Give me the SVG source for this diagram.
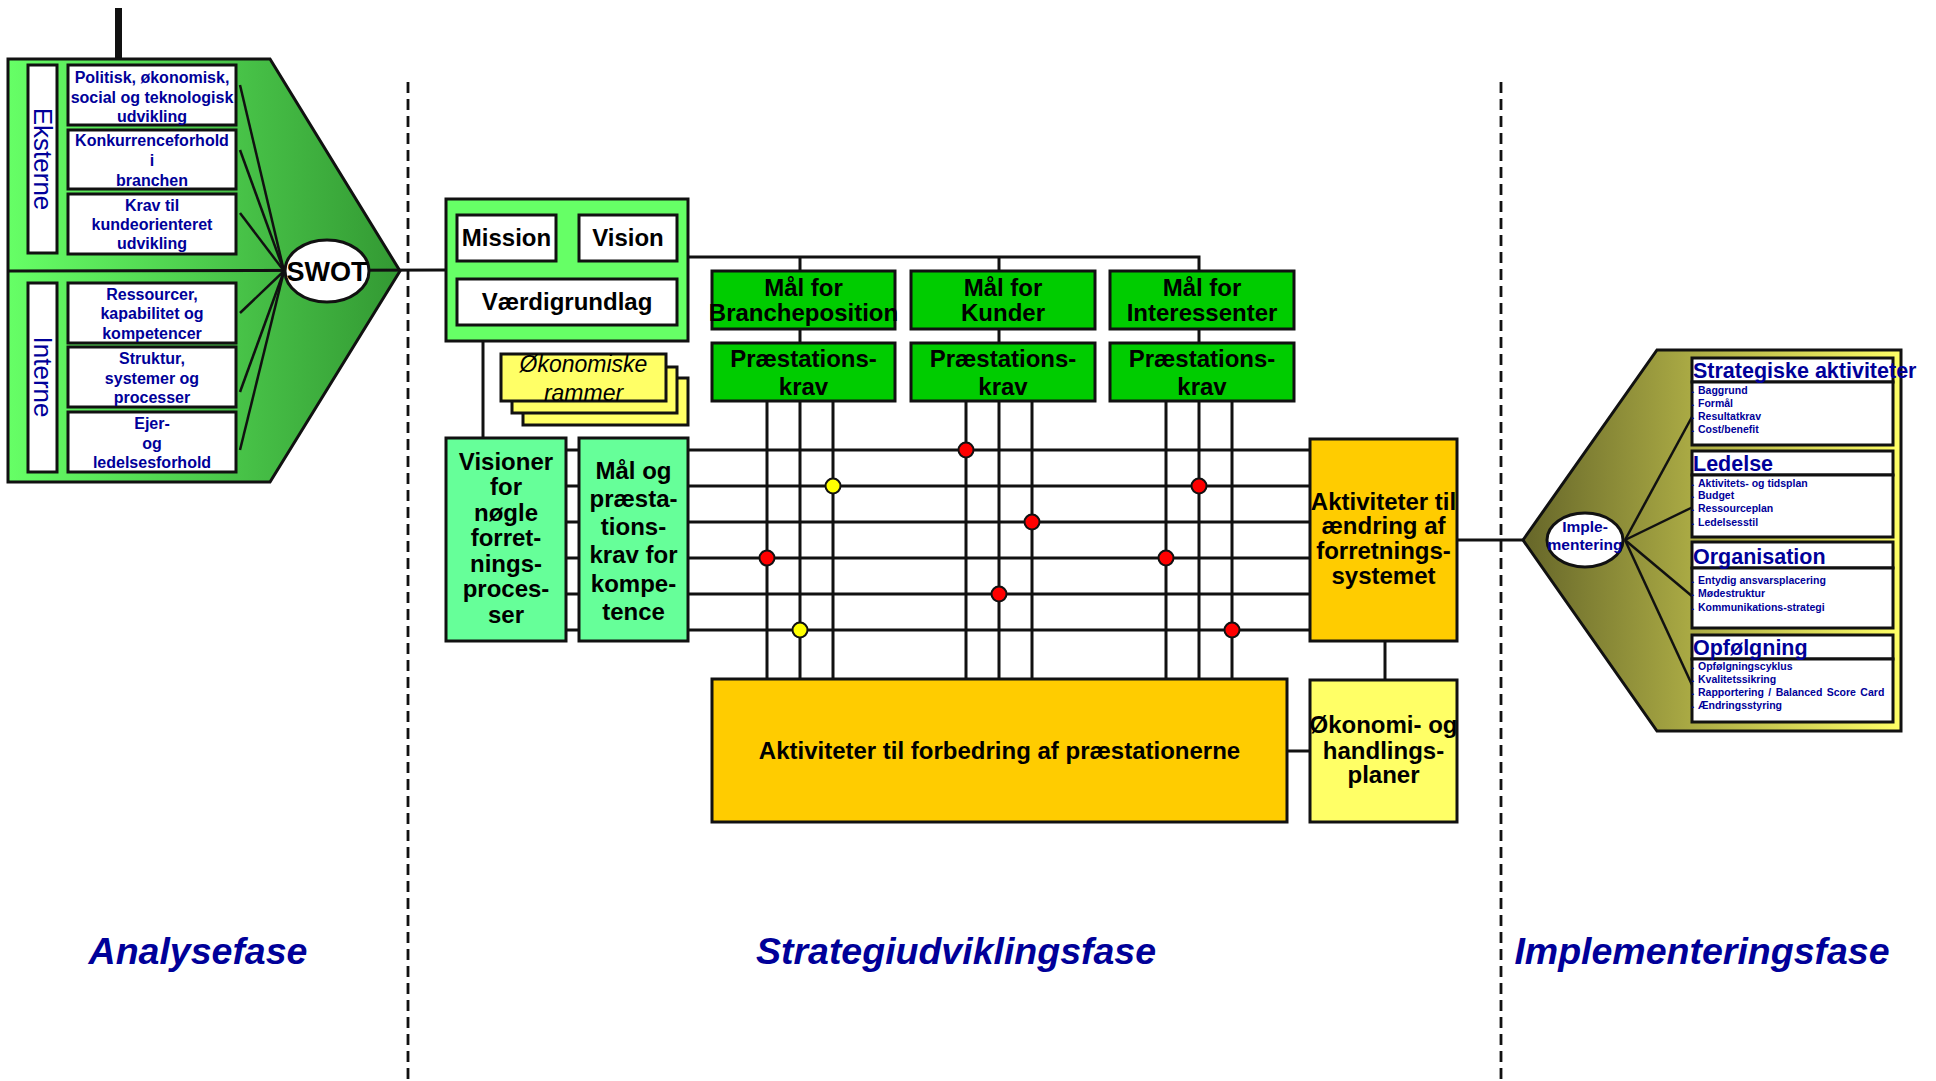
<svg xmlns="http://www.w3.org/2000/svg" width="1936" height="1081" viewBox="0 0 1936 1081">
<style>
text{font-family:"Liberation Sans",Arial,sans-serif;}
.box{stroke:#111;stroke-width:3;}
.w{fill:#fff;}
.lb{fill:#000099;font-weight:bold;font-size:16px;text-anchor:middle;}
.bk{fill:#000;font-weight:bold;font-size:24px;text-anchor:middle;}
.ln{stroke:#111;stroke-width:3;fill:none;}
.fan{stroke:#111;stroke-width:2.5;fill:none;}
.dash{stroke:#111;stroke-width:2.8;stroke-dasharray:11 6;fill:none;}
.hd{fill:#000099;font-weight:bold;font-size:21.5px;}
.bl{fill:#000099;font-weight:bold;font-size:10.5px;}
.dot{stroke:#111;stroke-width:2;}
.phase{fill:#000099;font-weight:bold;font-style:italic;font-size:37.5px;text-anchor:middle;}
</style>
<defs>
<linearGradient id="gGreen" gradientUnits="userSpaceOnUse" x1="8" y1="0" x2="400" y2="0">
<stop offset="0" stop-color="#66ff66"/>
<stop offset="1" stop-color="#339933"/>
</linearGradient>
<linearGradient id="gOlive" gradientUnits="userSpaceOnUse" x1="1523" y1="0" x2="1901" y2="0">
<stop offset="0" stop-color="#666629"/>
<stop offset="1" stop-color="#ffff66"/>
</linearGradient>
</defs>

<!-- phase separators -->
<g id="separators">
<line class="dash" x1="408" y1="82" x2="408" y2="1081"/>
<line class="dash" x1="1501" y1="82" x2="1501" y2="1081"/>
</g>

<!-- Analysis phase -->
<g id="analyse">
<line x1="118.5" y1="8" x2="118.5" y2="59" stroke="#111" stroke-width="7"/>
<polygon points="8,59 270,59 400,271 270,482 8,482" fill="url(#gGreen)" stroke="#111" stroke-width="3"/>
<line class="ln" x1="8" y1="271" x2="446" y2="270"/>
<g id="eksterne">
<rect class="box w" x="28" y="65" width="29" height="188"/>
<text transform="translate(42.5,159) rotate(90)" text-anchor="middle" dy="9" font-size="26" fill="#000099">Eksterne</text>
</g>
<g id="interne">
<rect class="box w" x="28" y="283" width="29" height="189"/>
<text transform="translate(42.5,377) rotate(90)" text-anchor="middle" dy="9" font-size="26" fill="#000099">Interne</text>
</g>
<g id="fan-swot">
<line class="fan" x1="240" y1="85" x2="284" y2="271"/>
<line class="fan" x1="240" y1="150" x2="284" y2="271"/>
<line class="fan" x1="240" y1="213" x2="284" y2="271"/>
<line class="fan" x1="240" y1="313" x2="284" y2="271"/>
<line class="fan" x1="240" y1="392" x2="284" y2="271"/>
<line class="fan" x1="240" y1="450" x2="284" y2="271"/>
</g>
<g id="a1"><rect class="box w" x="68" y="65" width="168" height="60"/>
<text class="lb" x="152" y="83">Politisk, økonomisk,</text><text class="lb" x="152" y="103">social og teknologisk</text><text class="lb" x="152" y="122">udvikling</text></g>
<g id="a2"><rect class="box w" x="68" y="130" width="168" height="59"/>
<text class="lb" x="152" y="146">Konkurrenceforhold</text><text class="lb" x="152" y="166">i</text><text class="lb" x="152" y="186">branchen</text></g>
<g id="a3"><rect class="box w" x="68" y="194" width="168" height="60"/>
<text class="lb" x="152" y="211">Krav til</text><text class="lb" x="152" y="230">kundeorienteret</text><text class="lb" x="152" y="249">udvikling</text></g>
<g id="a4"><rect class="box w" x="68" y="283" width="168" height="60"/>
<text class="lb" x="152" y="300">Ressourcer,</text><text class="lb" x="152" y="319">kapabilitet og</text><text class="lb" x="152" y="339">kompetencer</text></g>
<g id="a5"><rect class="box w" x="68" y="347" width="168" height="60"/>
<text class="lb" x="152" y="364">Struktur,</text><text class="lb" x="152" y="384">systemer og</text><text class="lb" x="152" y="403">processer</text></g>
<g id="a6"><rect class="box w" x="68" y="412" width="168" height="60"/>
<text class="lb" x="152" y="429">Ejer-</text><text class="lb" x="152" y="449">og</text><text class="lb" x="152" y="468">ledelsesforhold</text></g>
<g id="swot">
<ellipse cx="327" cy="271" rx="42" ry="31" fill="#fff" stroke="#111" stroke-width="3"/>
<text x="327" y="281" text-anchor="middle" font-weight="bold" font-size="27" fill="#000">SWOT</text>
</g>
</g>

<!-- connectors of strategy phase -->
<g id="connectors">
<polyline class="ln" points="688,257 1199,257 1199,271"/>
<line class="ln" x1="800" y1="257" x2="800" y2="271"/>
<line class="ln" x1="999" y1="257" x2="999" y2="271"/>
<line class="ln" x1="800" y1="329" x2="800" y2="343"/>
<line class="ln" x1="999" y1="329" x2="999" y2="343"/>
<line class="ln" x1="1199" y1="329" x2="1199" y2="343"/>
<line class="ln" x1="483" y1="341" x2="483" y2="438"/>
<line class="ln" x1="566" y1="450" x2="1310" y2="450"/>
<line class="ln" x1="566" y1="486" x2="1310" y2="486"/>
<line class="ln" x1="566" y1="522" x2="1310" y2="522"/>
<line class="ln" x1="566" y1="558" x2="1310" y2="558"/>
<line class="ln" x1="566" y1="594" x2="1310" y2="594"/>
<line class="ln" x1="566" y1="630" x2="1310" y2="630"/>
<line class="ln" x1="767" y1="401" x2="767" y2="679"/>
<line class="ln" x1="800" y1="401" x2="800" y2="679"/>
<line class="ln" x1="833" y1="401" x2="833" y2="679"/>
<line class="ln" x1="966" y1="401" x2="966" y2="679"/>
<line class="ln" x1="999" y1="401" x2="999" y2="679"/>
<line class="ln" x1="1032" y1="401" x2="1032" y2="679"/>
<line class="ln" x1="1166" y1="401" x2="1166" y2="679"/>
<line class="ln" x1="1199" y1="401" x2="1199" y2="679"/>
<line class="ln" x1="1232" y1="401" x2="1232" y2="679"/>
<line class="ln" x1="1385" y1="641" x2="1385" y2="680"/>
<line class="ln" x1="1287" y1="751" x2="1310" y2="751"/>
<line class="ln" x1="1457" y1="540" x2="1523" y2="540"/>
<circle class="dot" cx="833" cy="486" r="7.5" fill="#ffff00"/>
<circle class="dot" cx="767" cy="558" r="7.5" fill="#ff0000"/>
<circle class="dot" cx="800" cy="630" r="7.5" fill="#ffff00"/>
<circle class="dot" cx="966" cy="450" r="7.5" fill="#ff0000"/>
<circle class="dot" cx="1199" cy="486" r="7.5" fill="#ff0000"/>
<circle class="dot" cx="1032" cy="522" r="7.5" fill="#ff0000"/>
<circle class="dot" cx="1166" cy="558" r="7.5" fill="#ff0000"/>
<circle class="dot" cx="999" cy="594" r="7.5" fill="#ff0000"/>
<circle class="dot" cx="1232" cy="630" r="7.5" fill="#ff0000"/>
</g>

<!-- Strategy phase nodes -->
<g id="mission-group">
<rect class="box" x="446" y="199" width="242" height="142" fill="#66ff66"/>
<rect class="box w" x="457" y="215" width="99" height="46"/>
<text class="bk" x="506.5" y="246">Mission</text>
<rect class="box w" x="579" y="215" width="98" height="46"/>
<text class="bk" x="628" y="246">Vision</text>
<rect class="box w" x="457" y="279" width="220" height="46"/>
<text class="bk" x="567" y="310">Værdigrundlag</text>
</g>
<g id="okonomiske-rammer">
<rect class="box" x="523" y="378" width="165" height="47" fill="#ffff66"/>
<rect class="box" x="512" y="367" width="165" height="46" fill="#ffff66"/>
<rect class="box" x="501" y="354" width="165" height="47" fill="#ffff66"/>
<text x="583.5" y="372" text-anchor="middle" font-style="italic" font-size="23" fill="#000">Økonomiske</text>
<text x="583.5" y="401" text-anchor="middle" font-style="italic" font-size="23" fill="#000">rammer</text>
</g>
<g id="mal-branche">
<rect class="box" x="712" y="271" width="183" height="58" fill="#00cc00"/>
<text class="bk" x="803.5" y="296">Mål for</text><text class="bk" x="803.5" y="321">Brancheposition</text>
</g>
<g id="krav-branche">
<rect class="box" x="712" y="343" width="183" height="58" fill="#00cc00"/>
<text class="bk" x="803.5" y="367">Præstations-</text><text class="bk" x="803.5" y="395">krav</text>
</g>
<g id="mal-kunder">
<rect class="box" x="911" y="271" width="184" height="58" fill="#00cc00"/>
<text class="bk" x="1003" y="296">Mål for</text><text class="bk" x="1003" y="321">Kunder</text>
</g>
<g id="krav-kunder">
<rect class="box" x="911" y="343" width="184" height="58" fill="#00cc00"/>
<text class="bk" x="1003" y="367">Præstations-</text><text class="bk" x="1003" y="395">krav</text>
</g>
<g id="mal-interessenter">
<rect class="box" x="1110" y="271" width="184" height="58" fill="#00cc00"/>
<text class="bk" x="1202" y="296">Mål for</text><text class="bk" x="1202" y="321">Interessenter</text>
</g>
<g id="krav-interessenter">
<rect class="box" x="1110" y="343" width="184" height="58" fill="#00cc00"/>
<text class="bk" x="1202" y="367">Præstations-</text><text class="bk" x="1202" y="395">krav</text>
</g>
<g id="visioner">
<rect class="box" x="446" y="438" width="120" height="203" fill="#66ff99"/>
<text class="bk" x="506" y="469.5">Visioner</text>
<text class="bk" x="506" y="495">for</text>
<text class="bk" x="506" y="520.5">nøgle</text>
<text class="bk" x="506" y="546">forret-</text>
<text class="bk" x="506" y="571.5">nings-</text>
<text class="bk" x="506" y="597">proces-</text>
<text class="bk" x="506" y="622.5">ser</text>
</g>
<g id="mal-kompetence">
<rect class="box" x="579" y="438" width="109" height="203" fill="#66ff99"/>
<text class="bk" x="633.5" y="478.5">Mål og</text>
<text class="bk" x="633.5" y="507">præsta-</text>
<text class="bk" x="633.5" y="535">tions-</text>
<text class="bk" x="633.5" y="563">krav for</text>
<text class="bk" x="633.5" y="592">kompe-</text>
<text class="bk" x="633.5" y="620">tence</text>
</g>
<g id="aktiviteter-forbedring">
<rect class="box" x="712" y="679" width="575" height="143" fill="#ffcc00"/>
<text class="bk" x="999.5" y="759">Aktiviteter til forbedring af præstationerne</text>
</g>
<g id="aktiviteter-aendring">
<rect class="box" x="1310" y="439" width="147" height="202" fill="#ffcc00"/>
<text class="bk" font-size="23" x="1383.5" y="510">Aktiviteter til</text>
<text class="bk" font-size="23" x="1383.5" y="534">ændring af</text>
<text class="bk" font-size="23" x="1383.5" y="559">forretnings-</text>
<text class="bk" font-size="23" x="1383.5" y="584">systemet</text>
</g>
<g id="okonomi-planer">
<rect class="box" x="1310" y="680" width="147" height="142" fill="#ffff66"/>
<text class="bk" font-size="23" x="1383.5" y="733">Økonomi- og</text>
<text class="bk" font-size="23" x="1383.5" y="759">handlings-</text>
<text class="bk" font-size="23" x="1383.5" y="783">planer</text>
</g>

<!-- Implementation phase -->
<g id="implementering">
<polygon points="1523,540 1657,350 1901,350 1901,731 1657,731" fill="url(#gOlive)" stroke="#111" stroke-width="3"/>
<g id="fan-imple">
<line class="fan" stroke-width="2" x1="1625" y1="540" x2="1693" y2="415"/>
<line class="fan" stroke-width="2" x1="1625" y1="540" x2="1693" y2="507"/>
<line class="fan" stroke-width="2" x1="1625" y1="540" x2="1693" y2="597"/>
<line class="fan" stroke-width="2" x1="1625" y1="540" x2="1693" y2="687"/>
</g>
<g id="imple-node">
<ellipse cx="1585" cy="540" rx="38" ry="27" fill="#fff" stroke="#111" stroke-width="3"/>
<text x="1585" y="532" text-anchor="middle" font-weight="bold" font-size="15.5" fill="#000099">Imple-</text>
<text x="1585" y="550" text-anchor="middle" font-weight="bold" font-size="15.5" fill="#000099">mentering</text>
</g>
<g id="strategiske">
<rect class="box w" x="1692" y="358" width="201" height="24"/>
<rect class="box w" x="1692" y="382" width="201" height="63"/>
<text class="hd" x="1693" y="378">Strategiske aktiviteter</text>
<text class="bl" x="1692" y="394"><tspan font-size="6">•</tspan><tspan x="1698">Baggrund</tspan></text>
<text class="bl" x="1692" y="406.5"><tspan font-size="6">•</tspan><tspan x="1698">Formål</tspan></text>
<text class="bl" x="1692" y="419.5"><tspan font-size="6">•</tspan><tspan x="1698">Resultatkrav</tspan></text>
<text class="bl" x="1692" y="432.5"><tspan font-size="6">•</tspan><tspan x="1698">Cost/benefit</tspan></text>
</g>
<g id="ledelse">
<rect class="box w" x="1692" y="451" width="201" height="24"/>
<rect class="box w" x="1692" y="475" width="201" height="62"/>
<text class="hd" x="1693" y="471" font-size="22.5">Ledelse</text>
<text class="bl" x="1692" y="486.5"><tspan font-size="6">•</tspan><tspan x="1698">Aktivitets- og tidsplan</tspan></text>
<text class="bl" x="1692" y="499"><tspan font-size="6">•</tspan><tspan x="1698">Budget</tspan></text>
<text class="bl" x="1692" y="512"><tspan font-size="6">•</tspan><tspan x="1698">Ressourceplan</tspan></text>
<text class="bl" x="1692" y="525.5"><tspan font-size="6">•</tspan><tspan x="1698">Ledelsesstil</tspan></text>
</g>
<g id="organisation">
<rect class="box w" x="1692" y="542" width="201" height="26"/>
<rect class="box w" x="1692" y="568" width="201" height="60"/>
<text class="hd" x="1693" y="564" font-size="22">Organisation</text>
<text class="bl" x="1692" y="584"><tspan font-size="6">•</tspan><tspan x="1698">Entydig ansvarsplacering</tspan></text>
<text class="bl" x="1692" y="597"><tspan font-size="6">•</tspan><tspan x="1698">Mødestruktur</tspan></text>
<text class="bl" x="1692" y="610.5"><tspan font-size="6">•</tspan><tspan x="1698">Kommunikations-strategi</tspan></text>
</g>
<g id="opfolgning">
<rect class="box w" x="1692" y="635" width="201" height="24"/>
<rect class="box w" x="1692" y="659" width="201" height="63"/>
<text class="hd" x="1693" y="655" font-size="22">Opfølgning</text>
<text class="bl" x="1692" y="670"><tspan font-size="6">•</tspan><tspan x="1698">Opfølgningscyklus</tspan></text>
<text class="bl" x="1692" y="683"><tspan font-size="6">•</tspan><tspan x="1698">Kvalitetssikring</tspan></text>
<text class="bl" x="1692" y="696"><tspan font-size="6">•</tspan><tspan x="1698" word-spacing="1.5">Rapportering / Balanced Score Card</tspan></text>
<text class="bl" x="1692" y="709"><tspan font-size="6">•</tspan><tspan x="1698">Ændringsstyring</tspan></text>
</g>
</g>

<!-- phase labels -->
<g id="labels">
<text class="phase" x="198" y="964">Analysefase</text>
<text class="phase" x="956" y="964">Strategiudviklingsfase</text>
<text class="phase" x="1702" y="964">Implementeringsfase</text>
</g>
</svg>
